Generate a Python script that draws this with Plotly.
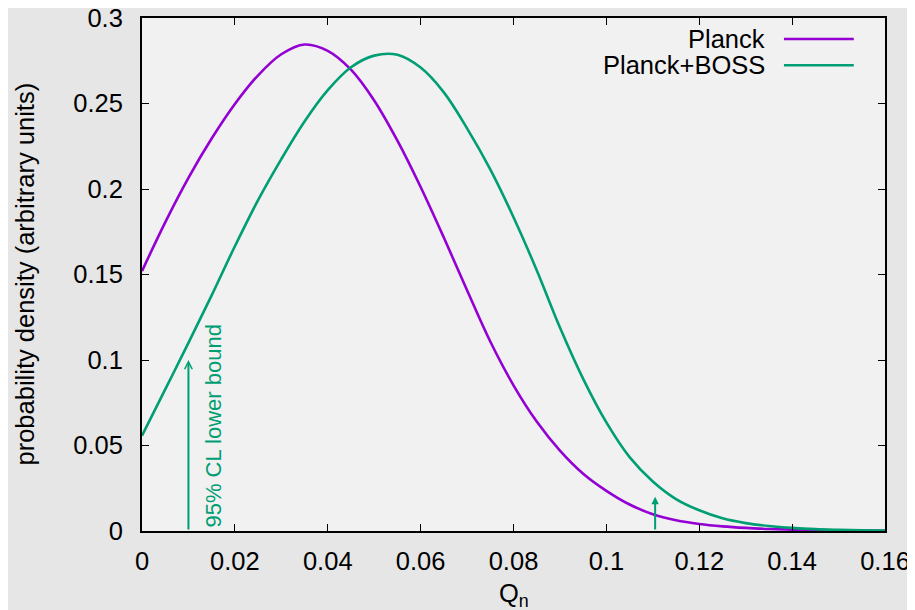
import plotly.graph_objects as go

# ---- data ----
q_n = [0.000, 0.005, 0.010, 0.015, 0.020, 0.025, 0.030, 0.035, 0.040, 0.045,
       0.050, 0.055, 0.060, 0.065, 0.070, 0.075, 0.080, 0.085, 0.090, 0.095,
       0.100, 0.105, 0.110, 0.115, 0.120, 0.125, 0.130, 0.135, 0.140, 0.145,
       0.150, 0.155, 0.160]

planck = [0.1520, 0.1805, 0.2065, 0.2295, 0.2497, 0.2665, 0.2788, 0.2845, 0.2808, 0.2698,
          0.2518, 0.2283, 0.2012, 0.1716, 0.1408, 0.1108, 0.0852, 0.0640, 0.0470, 0.0335,
          0.0235, 0.0155, 0.0098, 0.0063, 0.0041, 0.0027, 0.0018, 0.0012, 0.0008, 0.0005,
          0.0003, 0.0002, 0.0001]

planck_boss = [0.0557, 0.0828, 0.1100, 0.1378, 0.1665, 0.1935, 0.2175, 0.2395, 0.2578, 0.2712,
               0.2780, 0.2785, 0.2710, 0.2565, 0.2355, 0.2115, 0.1835, 0.1525, 0.1190, 0.0890,
               0.0635, 0.0432, 0.0290, 0.0187, 0.0121, 0.0074, 0.0046, 0.0029, 0.0018, 0.0011,
               0.0007, 0.0004, 0.0002]

series_names = ["Planck", "Planck+BOSS"]

# arrows: x position and tip height
arrow_x = [0.010, 0.1105]
arrow_tip = [0.100, 0.020]
arrow_label = "95% CL lower bound"

x_ticks = [0, 0.02, 0.04, 0.06, 0.08, 0.10, 0.12, 0.14, 0.16]
x_tick_text = ["0", "0.02", "0.04", "0.06", "0.08", "0.1", "0.12", "0.14", "0.16"]
y_ticks = [0, 0.05, 0.10, 0.15, 0.20, 0.25, 0.30]
y_tick_text = ["0", "0.05", "0.1", "0.15", "0.2", "0.25", "0.3"]

PURPLE = "#9400D3"
GREEN = "#009E73"
FONT = "Liberation Sans, Arial, sans-serif"
FS = 25.5

fig = go.Figure()
fig.add_trace(go.Scatter(x=q_n, y=planck, mode="lines", name=series_names[0],
                         line=dict(color=PURPLE, width=2.6, shape="spline", smoothing=1.0),
                         showlegend=False))
fig.add_trace(go.Scatter(x=q_n, y=planck_boss, mode="lines", name=series_names[1],
                         line=dict(color=GREEN, width=2.6, shape="spline", smoothing=1.0),
                         showlegend=False))

annotations = []
# arrows
for i, (ax_, tip) in enumerate(zip(arrow_x, arrow_tip)):
    annotations.append(dict(
        x=ax_, y=tip, ax=ax_, ay=0, xref="x", yref="y", axref="x", ayref="y",
        showarrow=True, arrowhead=5 if i == 0 else 2, arrowsize=0.75,
        arrowwidth=2, arrowcolor=GREEN, text="", standoff=0))

# rotated label
annotations.append(dict(
    x=0.0154, y=0.0614, xref="x", yref="y", text=arrow_label, showarrow=False,
    textangle=-90, font=dict(family=FONT, size=22, color=GREEN),
    xanchor="center", yanchor="middle"))

# gnuplot-style key (text right-aligned, sample line on the right)
legend_y = [0.959, 0.908]
for name, col, ly in zip(series_names, [PURPLE, GREEN], legend_y):
    annotations.append(dict(
        x=0.841, y=ly, xref="paper", yref="paper", text=name, showarrow=False,
        xanchor="right", yanchor="middle", font=dict(family=FONT, size=FS, color="black")))

shapes = []
for col, ly in zip([PURPLE, GREEN], legend_y):
    shapes.append(dict(type="line", xref="paper", yref="paper",
                       x0=0.864, x1=0.958, y0=ly, y1=ly,
                       line=dict(color=col, width=2.6)))

# axis titles
annotations.append(dict(
    x=0.5, y=0, xref="paper", yref="paper", yshift=-64, text="Q<sub>n</sub>",
    showarrow=False, xanchor="center", yanchor="middle",
    font=dict(family=FONT, size=FS, color="black")))
annotations.append(dict(
    x=0, y=0.5, xref="paper", yref="paper", xshift=-118,
    text="probability density (arbitrary units)", showarrow=False, textangle=-90,
    xanchor="center", yanchor="middle", font=dict(family=FONT, size=FS, color="black")))

axis_common = dict(
    showline=True, linecolor="black", linewidth=2, mirror="ticks",
    ticks="inside", ticklen=7, tickwidth=1.3, tickcolor="black",
    showgrid=False, zeroline=False, ticklabeloverflow="allow",
    tickfont=dict(family=FONT, size=FS, color="black"),
)

# page body has an 8px margin, so the figure is 8px smaller on each axis
fig.update_layout(
    width=907, height=602,
    margin=dict(l=134, r=30, t=10, b=79, autoexpand=False),
    paper_bgcolor="#e6e6e6",
    plot_bgcolor="#f1f1f1",
    font=dict(family=FONT, size=FS, color="black"),
    xaxis=dict(range=[0, 0.16], tickvals=x_ticks, ticktext=x_tick_text,
               ticklabelstandoff=6, **axis_common),
    yaxis=dict(range=[0, 0.3], tickvals=y_ticks, ticktext=y_tick_text,
               ticklabelstandoff=12, **axis_common),
    annotations=annotations,
    shapes=shapes,
    showlegend=False,
)

fig.write_html("out.html")
